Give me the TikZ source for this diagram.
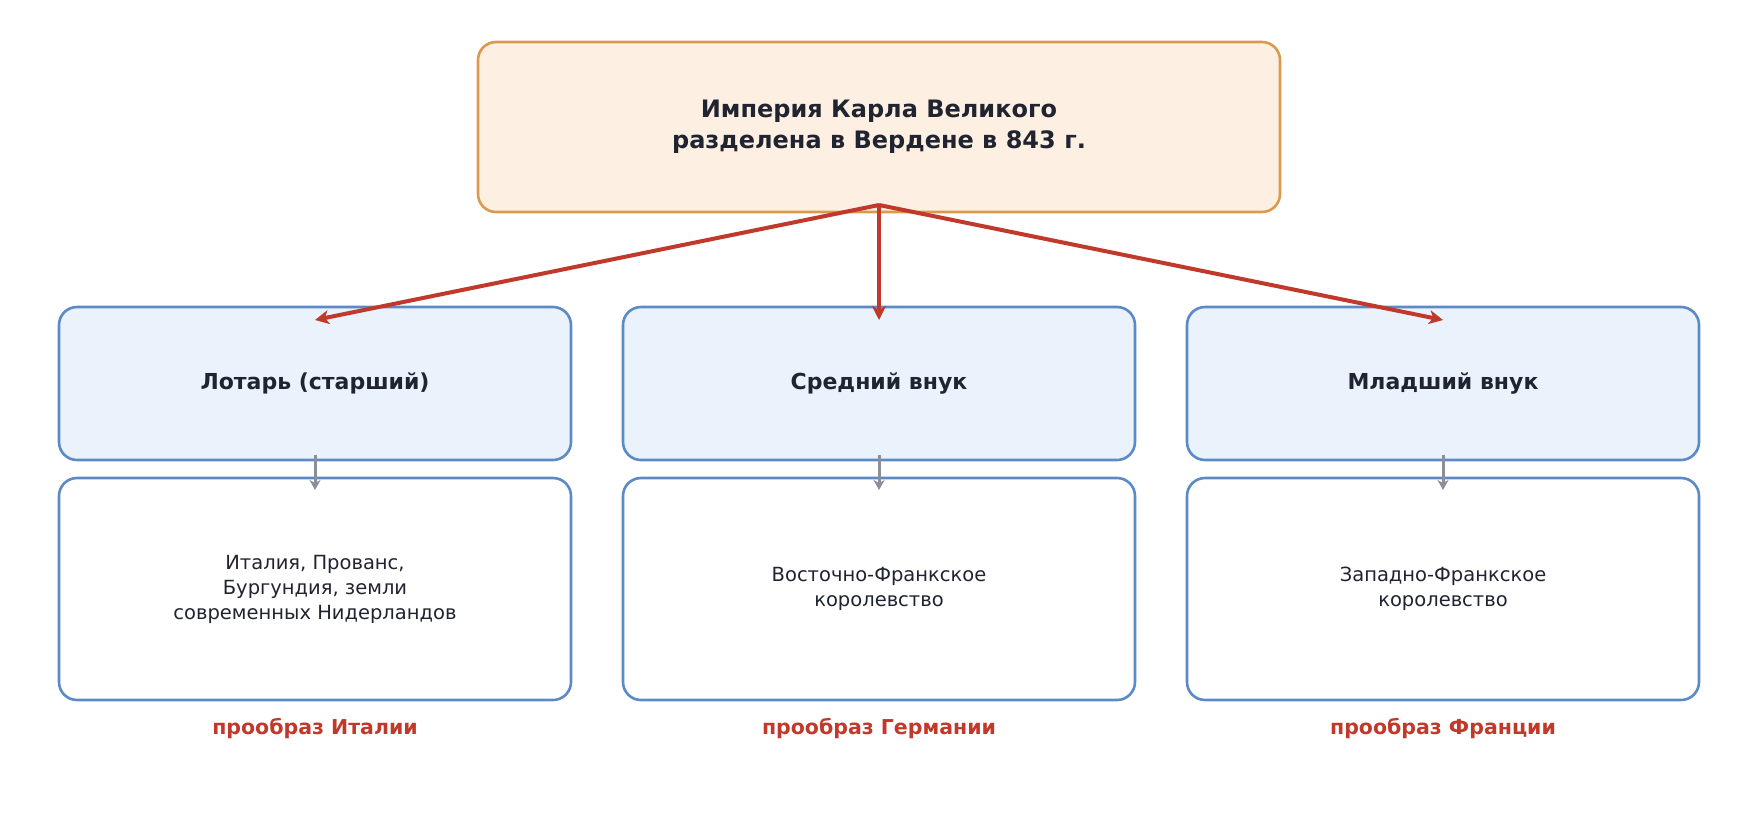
\documentclass[tikz,border=0pt]{standalone}
\usepackage{fontspec}
\setmainfont{DejaVu Sans}
\usetikzlibrary{positioning,arrows.meta}
\definecolor{topfill}{HTML}{FDF0E3}
\definecolor{topdraw}{HTML}{D99A4E}
\definecolor{bluefill}{HTML}{EAF2FB}
\definecolor{bluedraw}{HTML}{5B8AC6}
\definecolor{redline}{HTML}{C0392B}
\definecolor{grayline}{HTML}{8A8F99}
\definecolor{ink}{HTML}{1F2430}
\tikzset{
  box/.style={draw, line width=2.6pt, rounded corners=18pt, text=ink, align=center},
  root/.style={box, fill=topfill, draw=topdraw, minimum width=802pt, minimum height=170pt,
    font=\fontsize{24}{31}\selectfont\bfseries},
  heir/.style={box, fill=bluefill, draw=bluedraw, minimum width=512pt, minimum height=153pt,
    font=\fontsize{22}{28}\selectfont\bfseries},
  land/.style={box, fill=white, draw=bluedraw, minimum width=512pt, minimum height=222pt,
    font=\fontsize{19.5}{25}\selectfont},
  note/.style={text=redline, font=\fontsize{20.5}{26}\selectfont\bfseries},
  split/.style={draw=redline, line width=4pt, -{Stealth[length=14pt,width=14pt,inset=4pt]}},
  down/.style={draw=grayline, line width=3pt, -{Stealth[length=10pt,width=11pt,inset=3pt]}}
}
\begin{document}
\begin{tikzpicture}[x=1pt,y=-1pt]
  \useasboundingbox (0,0) rectangle (1758,828);
  \node[root] (empire) at (879,127) {Империя Карла Великого\\разделена в Вердене в 843 г.};
  \coordinate (fork) at (879,205);
  \foreach \n/\x/\who/\what/\future in {
      lothar/315/{Лотарь (старший)}/{Италия, Прованс,\\Бургундия, земли\\современных Нидерландов}/{прообраз Италии},
      middle/879/{Средний внук}/{Восточно-Франкское\\королевство}/{прообраз Германии},
      young/1443/{Младший внук}/{Западно-Франкское\\королевство}/{прообраз Франции}} {
    \node[heir] (\n) at (\x,383.5) {\who};
    \node[land] (\n-land) at (\x,589) {\what};
    \node[note] (\n-note) at (\x,728) {\future};
    \coordinate (\n-in) at (\x,320);
    \draw[split] (fork) -- (\n-in);
    \draw[down] (\x,455) -- (\x,490);
  }
\end{tikzpicture}
\end{document}
